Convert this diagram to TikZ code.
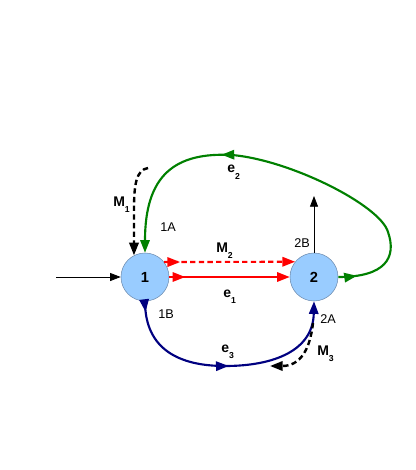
\documentclass[tikz,border=0pt]{standalone}
\usepackage{fontspec}
\setmainfont{Liberation Sans}
\usetikzlibrary{arrows.meta,decorations.markings}
\definecolor{nodeblue}{RGB}{153,204,255}
\definecolor{nodeedge}{RGB}{110,140,175}
\definecolor{egreen}{RGB}{0,128,0}
\definecolor{eblue}{RGB}{0,0,128}
\tikzset{
  mytip/.tip={Triangle[length=9.5pt,width=7pt]},
  state/.style={circle,fill=nodeblue,draw=nodeedge,line width=0.4pt,minimum size=36pt,inner sep=0pt,font=\fontsize{11}{12}\selectfont\bfseries},
  lbl/.style={anchor=base west,inner sep=0pt,font=\fontsize{9.5}{11}\selectfont},
  blbl/.style={anchor=base west,inner sep=0pt,font=\fontsize{10.5}{12}\selectfont\bfseries},
  thinarrow/.style={line width=0.6pt,-{Triangle[length=8pt,width=6pt]}},
  edge/.style={line width=1.6pt,-{mytip}},
  startmark/.style={postaction={decorate},decoration={markings,mark=at position 12pt with {\arrow{mytip}}}},
  mdash/.style={line width=1.8pt,dash pattern=on 4pt off 2.5pt,-{mytip}}
}
\newcommand{\sbs}[1]{\raisebox{-5pt}{\fontsize{6.5}{7}\selectfont\bfseries #1}}
\begin{document}
\begin{tikzpicture}[x=0.75pt,y=-0.75pt]
\useasboundingbox (0,0) rectangle (415,470);
\node[state] (n1) at (145,277) {1};
\node[state] (n2) at (314,277) {2};
\coordinate (in) at (56,277);
\coordinate (out2) at (314,196);
\coordinate (m1s) at (148,168);
\coordinate (m3s) at (313,323);
\coordinate (m3e) at (270,366);
% input / output
\draw[thinarrow] (in) -- (n1.west);
\draw[thinarrow] (n2.north) -- (out2);
% red edges
\draw[red,edge,startmark] (n1.east) -- (n2.west);
\draw[red,edge,dash pattern=on 4pt off 2.5pt,postaction={decorate},decoration={markings,mark=at position 12pt with {\arrow{mytip}}}] (n1.38.7) -- (n2.141.3);
% green edge
\draw[egreen,edge,postaction={decorate},decoration={markings,mark=at position 14pt with {\arrow{mytip}},mark=at position 0.655 with {\arrow{mytip}}}]
  (n2.east) .. controls (385,277) and (397,258) .. (388,232)
  .. controls (380,205) and (290,160) .. (232,155)
  .. controls (175,152) and (145,175) .. (n1.north);
% blue edge
\draw[eblue,edge,postaction={decorate},decoration={markings,mark=at position 8pt with {\arrow{mytip}},mark=at position 0.5 with {\arrow{mytip}}}]
  (n1.south) .. controls (145,350) and (180,366) .. (225,366)
  .. controls (275,366) and (313,350) .. (n2.south);
% M dashed
\draw[mdash] (m1s) .. controls (136,170) and (134,185) .. (134,210) -- (n1.117);
\draw[mdash] (m3s) .. controls (310,350) and (300,366) .. (m3e);
% labels
\node[blbl] (lm1) at (113,206) {M\sbs{1}};
\node[blbl] (lm2) at (216,252) {M\sbs{2}};
\node[blbl] (lm3) at (317,355) {M\sbs{3}};
\node[blbl] (le1) at (223,297) {e\sbs{1}};
\node[blbl] (le2) at (227,173) {e\sbs{2}};
\node[blbl] (le3) at (221,352) {e\sbs{3}};
\node[lbl] (l1a) at (160,231) {1A};
\node[lbl] (l1b) at (158,318) {1B};
\node[lbl] (l2a) at (320,323) {2A};
\node[lbl] (l2b) at (294,247) {2B};
\end{tikzpicture}
\end{document}
